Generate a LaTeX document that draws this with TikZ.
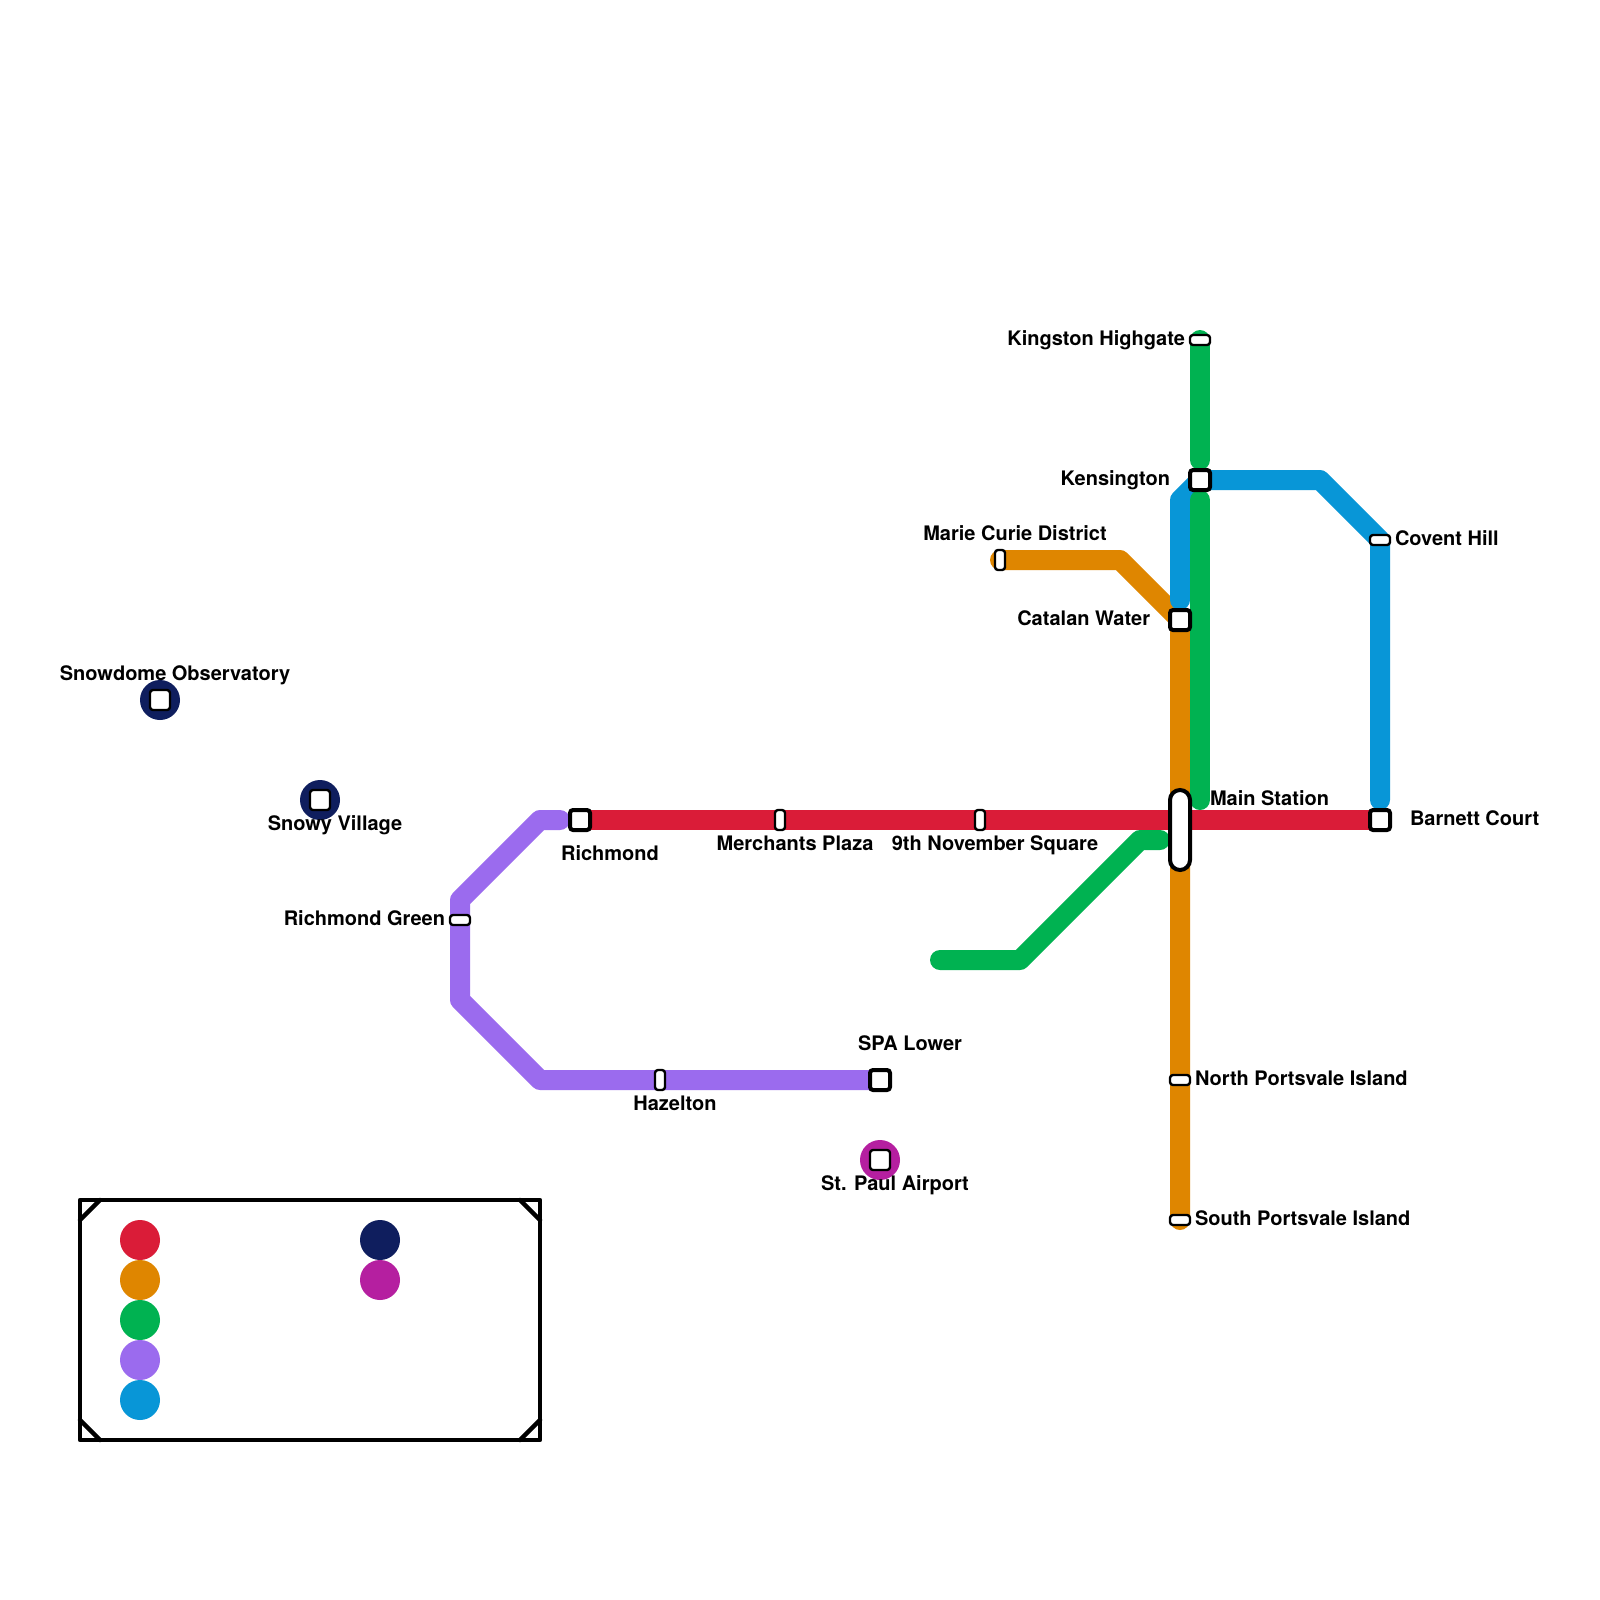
\documentclass[tikz,border=0pt]{standalone}
\usepackage{fontspec}
\setmainfont{TeX Gyre Heros}
\definecolor{lred}{HTML}{DA1C38}
\definecolor{lorange}{HTML}{DF8600}
\definecolor{lgreen}{HTML}{00B251}
\definecolor{lpurple}{HTML}{9B6BEE}
\definecolor{lblue}{HTML}{0896D7}
\definecolor{lnavy}{HTML}{0F1E5E}
\definecolor{lmag}{HTML}{B51FA0}
\tikzset{
  metro/.style={line width=20pt,line cap=round,line join=round},
  sqst/.style={draw=black,fill=white,line width=4pt,rounded corners=3pt,minimum width=20pt,minimum height=20pt,inner sep=0pt,outer sep=0pt},
  discst/.style={draw=black,fill=white,line width=2.4pt,rounded corners=3pt,minimum width=20pt,minimum height=20pt,inner sep=0pt,outer sep=0pt},
  vst/.style={draw=black,fill=white,line width=2.4pt,rounded corners=3pt,minimum width=10pt,minimum height=20pt,inner sep=0pt,outer sep=0pt},
  hst/.style={draw=black,fill=white,line width=2.4pt,rounded corners=3pt,minimum width=20pt,minimum height=10pt,inner sep=0pt,outer sep=0pt},
  bigst/.style={draw=black,fill=white,line width=4pt,rounded corners=10pt,minimum width=20pt,minimum height=80pt,inner sep=0pt,outer sep=0pt},
  disc/.style={circle,minimum size=40pt,inner sep=0pt,outer sep=0pt},
  lab/.style={font=\fontsize{20}{24}\selectfont\bfseries,inner sep=0pt,outer sep=0pt,text=black},
  frame/.style={draw=black,line width=4.5pt,line join=round,line cap=round}
}
\begin{document}
\begin{tikzpicture}[x=1pt,y=-1pt]
\useasboundingbox (0,0) rectangle (1600,1600);
\fill[white] (0,0) rectangle (1600,1600);
% points
\coordinate (pRichmond) at (580,820);
\coordinate (pBarnett) at (1380,820);
\coordinate (pMC) at (1000,560);
\coordinate (oBend) at (1120,560);
\coordinate (pCatalan) at (1180,620);
\coordinate (pSouth) at (1180,1220);
\coordinate (pKingston) at (1200,340);
\coordinate (gA) at (1200,460);
\coordinate (gB) at (1200,500);
\coordinate (gC) at (1200,800);
\coordinate (gD) at (940,960);
\coordinate (gE) at (1020,960);
\coordinate (gF) at (1140,840);
\coordinate (gG) at (1160,840);
\coordinate (pA) at (560,820);
\coordinate (pB) at (540,820);
\coordinate (pC) at (460,900);
\coordinate (pD) at (460,1000);
\coordinate (pE) at (540,1080);
\coordinate (pSPA) at (880,1080);
\coordinate (bA) at (1180,600);
\coordinate (bB) at (1180,500);
\coordinate (pKens) at (1200,480);
\coordinate (bC) at (1320,480);
\coordinate (pCovent) at (1380,540);
\coordinate (bD) at (1380,800);
% lines
\draw[metro,lorange] (pMC) -- (oBend) -- (pCatalan) -- (pSouth);
\draw[metro,lred] (pRichmond) -- (pBarnett);
\draw[metro,lpurple] (pA) -- (pB) -- (pC) -- (pD) -- (pE) -- (pSPA);
\draw[metro,lblue] (bA) -- (bB) -- (pKens) -- (bC) -- (pCovent) -- (bD);
\draw[metro,lgreen] (pKingston) -- (gA);
\draw[metro,lgreen] (gB) -- (gC);
\draw[metro,lgreen] (gD) -- (gE) -- (gF) -- (gG);
% discs behind isolated stations
\node[disc,fill=lnavy] (dSnowdome) at (160,700) {};
\node[disc,fill=lnavy] (dSnowy) at (320,800) {};
\node[disc,fill=lmag] (dPaul) at (880,1160) {};
% stations
\node[discst] (sSnowdome) at (dSnowdome) {};
\node[discst] (sSnowy) at (dSnowy) {};
\node[discst] (sPaul) at (dPaul) {};
\node[sqst] (sRichmond) at (pRichmond) {};
\node[sqst] (sBarnett) at (pBarnett) {};
\node[sqst] (sSPA) at (pSPA) {};
\node[sqst] (sCatalan) at (pCatalan) {};
\node[sqst] (sKens) at (pKens) {};
\node[bigst] (sMain) at (1180,830) {};
\node[vst] (sMerchants) at (780,820) {};
\node[vst] (sNovember) at (980,820) {};
\node[vst] (sHazelton) at (660,1080) {};
\node[vst] (sMC) at (pMC) {};
\node[hst] (sKingston) at (pKingston) {};
\node[hst] (sCovent) at (pCovent) {};
\node[hst] (sGreen) at (460,920) {};
\node[hst] (sNorth) at (1180,1080) {};
\node[hst] (sSouth) at (pSouth) {};
% labels
\node[lab,anchor=base east] (tKingston) at (1185,345) {Kingston Highgate};
\node[lab,anchor=base east] (tKens) at (1170,485) {Kensington};
\node[lab,anchor=base] (tMC) at (1015,540) {Marie Curie District};
\node[lab,anchor=base east] (tCatalan) at (1150,625) {Catalan Water};
\node[lab,anchor=base west] (tCovent) at (1395,545) {Covent Hill};
\node[lab,anchor=base west] (tMain) at (1210,805) {Main Station};
\node[lab,anchor=base west] (tBarnett) at (1410,825) {Barnett Court};
\node[lab,anchor=base] (tMerchants) at (795,850) {Merchants Plaza};
\node[lab,anchor=base] (tNovember) at (995,850) {9th November Square};
\node[lab,anchor=base] (tRichmond) at (610,860) {Richmond};
\node[lab,anchor=base] (tHazelton) at (675,1110) {Hazelton};
\node[lab,anchor=base] (tSPA) at (910,1050) {SPA Lower};
\node[lab,anchor=base] (tPaul) at (895,1190) {St. Paul Airport};
\node[lab,anchor=base west] (tNorth) at (1195,1085) {North Portsvale Island};
\node[lab,anchor=base west] (tSouth) at (1195,1225) {South Portsvale Island};
\node[lab,anchor=base east] (tGreen) at (445,925) {Richmond Green};
\node[lab,anchor=base] (tSnowy) at (335,830) {Snowy Village};
\node[lab,anchor=base] (tSnowdome) at (175,680) {Snowdome Observatory};
% legend
\coordinate (lTL) at (80,1200);
\coordinate (lBR) at (540,1440);
\draw[frame] (lTL) rectangle (lBR);
\draw[frame] (80,1220) -- (100,1200);
\draw[frame] (520,1200) -- (540,1220);
\draw[frame] (80,1420) -- (100,1440);
\draw[frame] (520,1440) -- (540,1420);
\node[disc,fill=lred] (k1) at (140,1240) {};
\node[disc,fill=lorange] (k2) at (140,1280) {};
\node[disc,fill=lgreen] (k3) at (140,1320) {};
\node[disc,fill=lpurple] (k4) at (140,1360) {};
\node[disc,fill=lblue] (k5) at (140,1400) {};
\node[disc,fill=lnavy] (k6) at (380,1240) {};
\node[disc,fill=lmag] (k7) at (380,1280) {};
\end{tikzpicture}
\end{document}
